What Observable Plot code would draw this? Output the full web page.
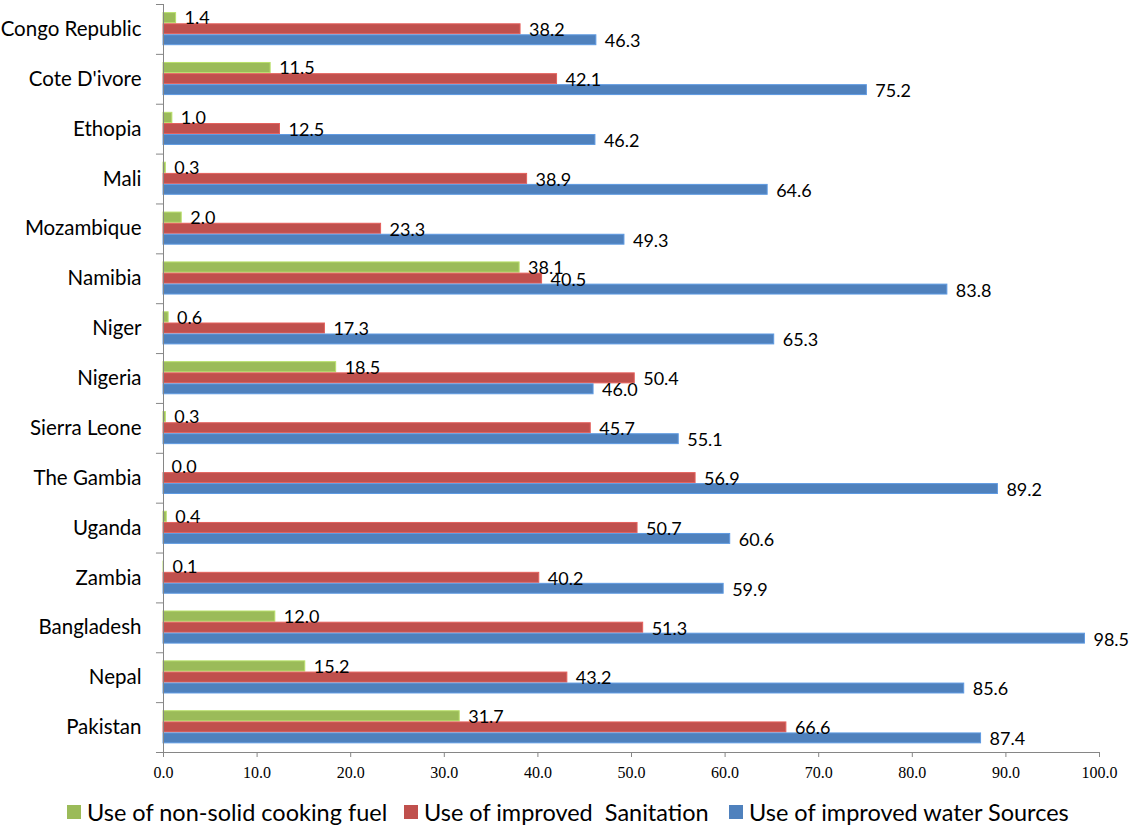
<!DOCTYPE html>
<html>
<head>
<meta charset="utf-8">
<script src="https://cdn.jsdelivr.net/npm/d3@7"></script>
<script src="https://cdn.jsdelivr.net/npm/@observablehq/plot@0.6"></script>
<style>
  html, body { margin: 0; padding: 0; background: #fff; }
  #legend { position: relative; height: 39px; font-family: Lato, "Open Sans", sans-serif; font-size: 23.5px; color: #000; white-space: pre; }
  .item { display: flex; align-items: center; position: absolute; top: 9px; line-height: 26px; }
  .sw { width: 14px; height: 14px; margin-right: 6px; }
</style>
</head>
<body>
<div id="chart"></div>
<div id="legend"></div>
<script>
const countries = ["Congo Republic", "Cote D'ivore", "Ethopia", "Mali", "Mozambique", "Namibia", "Niger", "Nigeria", "Sierra Leone", "The Gambia", "Uganda", "Zambia", "Bangladesh", "Nepal", "Pakistan"];
const fuel = [1.4, 11.5, 1.0, 0.3, 2.0, 38.1, 0.6, 18.5, 0.3, 0.0, 0.4, 0.1, 12.0, 15.2, 31.7];
const sanitation = [38.2, 42.1, 12.5, 38.9, 23.3, 40.5, 17.3, 50.4, 45.7, 56.9, 50.7, 40.2, 51.3, 43.2, 66.6];
const water = [46.3, 75.2, 46.2, 64.6, 49.3, 83.8, 65.3, 46.0, 55.1, 89.2, 60.6, 59.9, 98.5, 85.6, 87.4];
const seriesNames = ["Use of non-solid cooking fuel", "Use of improved  Sanitation", "Use of improved water Sources"];
const seriesColors = ["#9BBB59", "#C0504D", "#4F81BD"];
const xTicks = [0, 10, 20, 30, 40, 50, 60, 70, 80, 90, 100];

const W = 1139, H = 790, mt = 4, mb = 38, ml = 163, mr = 40;
const band = (H - mt - mb) / countries.length;
const rows = (vals) => countries.map((c, i) => ({country: c, value: vals[i]}));
const gray = "#868686";
const sans = "Lato, 'Open Sans', sans-serif";

// bar slot geometry within a band (pixels from band top)
const slots = [[8.1, 19.3], [19.3, 30.3], [30.3, 41.2]];
const labelDy = [-10.7, 1.0, 12.0];
const data = [fuel, sanitation, water];

const marks = [];
data.forEach((vals, k) => {
  marks.push(Plot.barX(rows(vals), {
    y: "country", x: "value",
    fill: seriesColors[k],
    stroke: d3.color(seriesColors[k]).brighter(0.5).formatHex(), strokeWidth: 1,
    insetTop: slots[k][0] + 0.5, insetBottom: band - slots[k][1] + 0.5, insetRight: 0.5
  }));
});
data.forEach((vals, k) => {
  marks.push(Plot.text(rows(vals), {
    y: "country", x: "value", text: d => d.value.toFixed(1),
    textAnchor: "start", dx: 8, dy: labelDy[k],
    fill: "#000", fontSize: 18, fontFamily: sans
  }));
});
// axis lines & boundary ticks
marks.push(Plot.ruleX([0], {stroke: gray}));
marks.push(Plot.ruleY(countries, {y: d => d, x1: -0.75, x2: 0, dy: -band / 2, stroke: gray}));
marks.push(Plot.ruleY([countries[countries.length - 1]], {y: d => d, x1: -0.75, x2: 100, dy: band / 2, stroke: gray}));
marks.push(Plot.axisX(xTicks, {
  tickFormat: d => d.toFixed(1), tickSize: 5, tickPadding: 9, stroke: gray,
  fontFamily: "'Liberation Serif', 'DejaVu Serif', serif", fontSize: 16, fill: "#000", label: null
}));
marks.push(Plot.axisY({
  tickSize: 0, tickPadding: 22, fontFamily: sans, fontSize: 20.5, fill: "#000", label: null
}));

const plot = Plot.plot({
  width: W, height: H,
  marginTop: mt, marginBottom: mb, marginLeft: ml, marginRight: mr,
  style: {background: "#fff", overflow: "visible"},
  x: {domain: [0, 100], label: null},
  y: {domain: countries, padding: 0, round: false, label: null},
  marks
});
document.getElementById("chart").appendChild(plot);

const legend = document.getElementById("legend");
const lefts = [67, 404, 729];
seriesNames.forEach((n, k) => {
  const it = document.createElement("div");
  it.className = "item";
  it.style.left = lefts[k] + "px";
  const sw = document.createElement("span");
  sw.className = "sw"; sw.style.background = seriesColors[k];
  const tx = document.createElement("span");
  tx.textContent = n;
  it.appendChild(sw); it.appendChild(tx);
  legend.appendChild(it);
});
</script>
</body>
</html>
